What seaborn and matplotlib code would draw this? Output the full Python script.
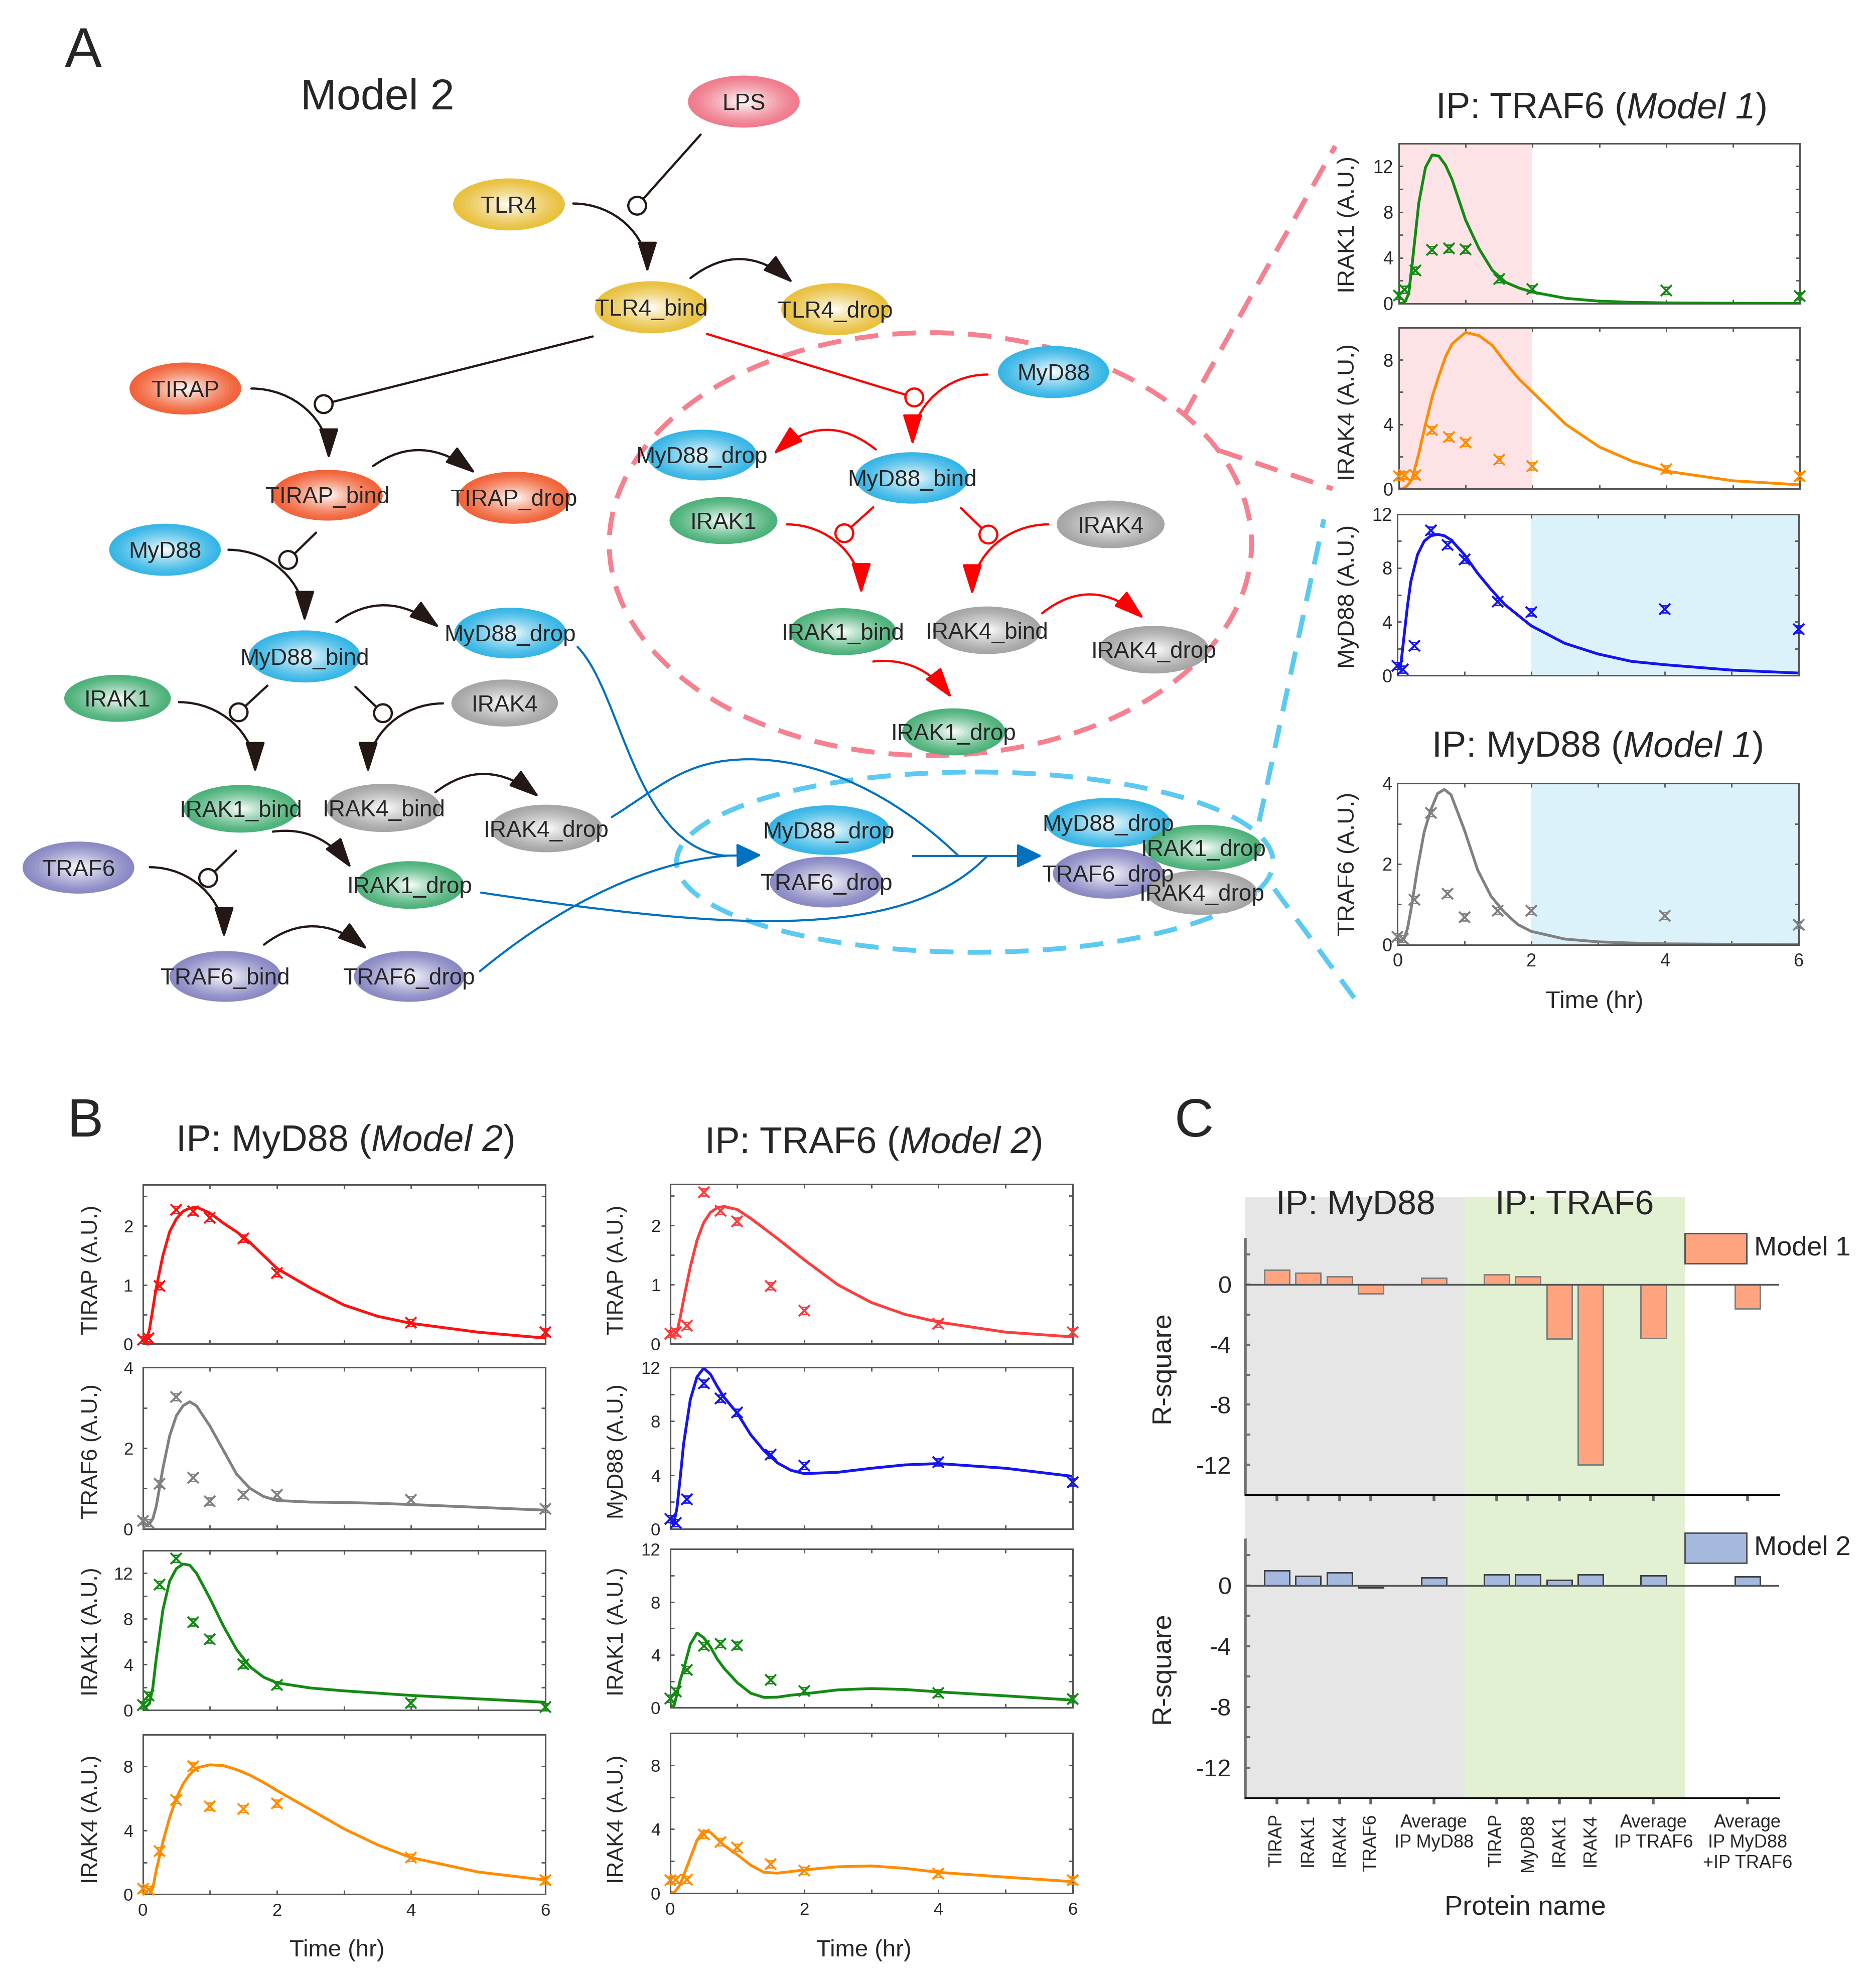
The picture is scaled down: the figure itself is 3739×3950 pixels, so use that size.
import numpy as np
import matplotlib
matplotlib.use("Agg")
import matplotlib.pyplot as plt
import seaborn as sns
from matplotlib import font_manager
from matplotlib.colors import to_rgb
from matplotlib.patches import Ellipse, Circle, Rectangle, FancyArrowPatch
from matplotlib.path import Path

# ---------------- data ----------------
# measured time points (hr) and the times the model curves were read at
t_obs = [0, 0.083, 0.25, 0.5, 0.75, 1, 1.5, 2, 4, 6]
t_fit = [0, 0.05, 0.1, 0.15, 0.2, 0.3, 0.4, 0.5, 0.6, 0.7, 0.8, 1.0,
         1.2, 1.4, 1.6, 1.8, 2.0, 2.5, 3.0, 3.5, 4.0, 5.0, 6.0]

# experiment, IP: MyD88
myd_tirap = [0.07, 0.1, 0.98, 2.27, 2.25, 2.14, 1.79, 1.2, 0.36, 0.2]
myd_traf6 = [0.2, 0.15, 1.12, 3.27, 1.26, 0.68, 0.84, 0.84, 0.72, 0.49]
myd_irak1 = [0.45, 1.3, 11.0, 13.3, 7.7, 6.2, 4.0, 2.2, 0.65, 0.3]
myd_irak4 = [0.36, 0.3, 2.7, 5.9, 8.0, 5.5, 5.36, 5.7, 2.3, 0.9]
# experiment, IP: TRAF6
trf_tirap = [0.17, 0.2, 0.31, 2.56, 2.25, 2.07, 0.98, 0.56, 0.34, 0.2]
trf_myd88 = [0.73, 0.44, 2.2, 10.8, 9.7, 8.65, 5.5, 4.7, 4.95, 3.45]
trf_irak1 = [0.7, 1.22, 2.87, 4.7, 4.82, 4.72, 2.12, 1.25, 1.12, 0.65]
trf_irak4 = [0.8, 0.84, 0.84, 3.65, 3.2, 2.86, 1.8, 1.42, 1.22, 0.8]

# model 1 fits
m1_trf_irak1 = [0, 0, 0.2, 0.9, 3.4, 8.8, 11.9, 13.0, 12.9, 12.1, 10.8, 7.3,
                4.8, 2.9, 1.85, 1.35, 1.0, 0.45, 0.2, 0.1, 0.05, 0.02, 0.0]
m1_trf_irak4 = [0, 0, 0.1, 0.3, 0.6, 2.2, 4.0, 5.7, 7.0, 8.2, 9.0, 9.7,
                9.5, 8.9, 7.8, 6.8, 6.0, 4.0, 2.6, 1.7, 1.1, 0.5, 0.25]
m1_trf_myd88 = [0.5, 0.8, 3.0, 5.2, 7.0, 9.0, 10.0, 10.4, 10.5, 10.4, 10.1, 9.0,
                7.6, 6.4, 5.3, 4.5, 3.7, 2.4, 1.6, 1.05, 0.8, 0.4, 0.18]
m1_myd_traf6 = [0.1, 0.1, 0.15, 0.4, 0.85, 1.9, 2.8, 3.35, 3.75, 3.85, 3.72, 2.85,
                1.85, 1.2, 0.8, 0.5, 0.33, 0.14, 0.07, 0.04, 0.02, 0.01, 0.0]

# model 2 fits, IP: MyD88
m2_myd_tirap = [0.05, 0.05, 0.25, 0.6, 0.95, 1.5, 1.9, 2.12, 2.25, 2.3, 2.32, 2.22,
                2.05, 1.9, 1.72, 1.5, 1.28, 0.95, 0.66, 0.47, 0.35, 0.2, 0.1]
m2_myd_traf6 = [0.15, 0.1, 0.12, 0.25, 0.55, 1.5, 2.3, 2.8, 3.05, 3.15, 3.05, 2.55,
                1.95, 1.35, 1.0, 0.8, 0.7, 0.66, 0.65, 0.63, 0.6, 0.53, 0.46]
m2_myd_irak1 = [0.4, 0.3, 0.6, 2.0, 4.5, 8.8, 11.3, 12.4, 12.8, 12.7, 12.0, 9.8,
                7.4, 5.3, 3.8, 2.9, 2.4, 1.95, 1.7, 1.5, 1.3, 1.0, 0.7]
m2_myd_irak4 = [0.1, 0.0, 0.0, 0.4, 1.5, 3.3, 4.8, 6.0, 6.9, 7.5, 7.9, 8.1,
                8.05, 7.8, 7.45, 7.0, 6.5, 5.3, 4.1, 3.1, 2.3, 1.4, 0.9]
# model 2 fits, IP: TRAF6
m2_trf_tirap = [0.15, 0.15, 0.2, 0.45, 0.75, 1.3, 1.75, 2.05, 2.22, 2.3, 2.32, 2.27,
                2.12, 1.95, 1.78, 1.6, 1.42, 1.0, 0.7, 0.5, 0.37, 0.2, 0.12]
m2_trf_myd88 = [0.6, 0.3, 1.5, 3.8, 6.3, 9.6, 11.3, 11.95, 11.5, 10.6, 9.8, 8.6,
                7.0, 5.8, 4.9, 4.35, 4.1, 4.2, 4.5, 4.75, 4.85, 4.5, 3.9]
m2_trf_irak1 = [0.3, 0.0, 1.0, 2.1, 2.9, 4.8, 5.65, 5.3, 4.6, 3.7, 3.0, 1.9,
                1.1, 0.78, 0.8, 0.95, 1.05, 1.35, 1.45, 1.38, 1.2, 0.9, 0.58]
m2_trf_irak4 = [0.1, 0.0, 0.25, 0.55, 1.1, 2.2, 3.3, 3.9, 3.8, 3.4, 3.0, 2.4,
                1.75, 1.3, 1.25, 1.35, 1.45, 1.65, 1.7, 1.55, 1.3, 1.0, 0.72]

# panel C: goodness of fit
protein_labels = ["TIRAP", "IRAK1", "IRAK4", "TRAF6", "Average\nIP MyD88",
                  "TIRAP", "MyD88", "IRAK1", "IRAK4", "Average\nIP TRAF6",
                  "Average\nIP MyD88\n+IP TRAF6"]
r2_model1 = [0.95, 0.76, 0.53, -0.61, 0.42, 0.65, 0.53, -3.62, -12.0, -3.58, -1.6]
r2_model2 = [0.99, 0.61, 0.84, -0.15, 0.53, 0.72, 0.72, 0.34, 0.72, 0.65, 0.57]
bar_slots = [1, 2, 3, 4, 6, 8, 9, 10, 11, 13, 16]

# ---------------- style ----------------
sns.set_theme(style="ticks")
plt.rcParams.update({
    "font.family": ["Liberation Sans", "DejaVu Sans"],
    "axes.unicode_minus": False,
})
installed = {f.name for f in font_manager.fontManager.ttflist}
if "Liberation Sans Narrow" in installed:
    node_font, node_fs = "Liberation Sans Narrow", 40
else:
    node_font, node_fs = "Liberation Sans", 33

W, H = 1478.0, 1561.0
PX = 3739 / W          # output pixels per layout unit
fig = plt.figure(figsize=(37.39, 39.50), dpi=100)
renderer = fig.canvas.get_renderer()


def R(x0, y0, x1, y1):
    return [x0 / W, 1 - y1 / H, (x1 - x0) / W, (y1 - y0) / H]


bg = fig.add_axes([0, 0, 1, 1], zorder=0)
bg.set_xlim(0, W)
bg.set_ylim(H, 0)
bg.axis("off")


def label(x, y, s, fs, **kw):
    return bg.text(x, y, s, fontsize=fs, **kw)


def title(x, y, pre, it, post, fs):
    # upright / italic / upright pieces, centred on x as a whole
    t1 = bg.text(x, y, pre, fontsize=fs, ha="left", va="baseline")
    t2 = bg.annotate(it, xy=(1, 0), xycoords=t1, fontsize=fs, style="italic",
                     ha="left", va="bottom")
    t3 = bg.annotate(post, xy=(1, 0), xycoords=t2, fontsize=fs, ha="left", va="bottom")
    total = sum(t.get_window_extent(renderer).width for t in (t1, t2, t3)) / PX
    t1.set_x(x - total / 2)


# ---------------- panel A: network ----------------
node_colors = {"lps": "#ef7b8c", "tlr": "#e9c13f", "tirap": "#f2643a",
               "myd": "#37b6e6", "irak1": "#4cb27a", "irak4": "#a6a6a6",
               "traf6": "#8a89c4"}

nodes = [
    ("LPS", 586, 80, 88, 41, "lps"),
    ("TLR4", 401, 161, 88, 41, "tlr"),
    ("TLR4_bind", 513, 242, 89, 41, "tlr"),
    ("TLR4_drop", 658, 243.5, 85, 41, "tlr"),
    ("TIRAP", 146, 306, 88, 41, "tirap"),
    ("TIRAP_bind", 258, 390, 87, 40, "tirap"),
    ("TIRAP_drop", 405, 392, 88, 41, "tirap"),
    ("MyD88", 130, 433, 88, 41, "myd"),
    ("MyD88_bind", 240, 517, 88, 41, "myd"),
    ("MyD88_drop", 402, 498.6, 88, 40, "myd"),
    ("IRAK1", 92.6, 550, 84, 37, "irak1"),
    ("IRAK4", 397.6, 553.7, 84, 37, "irak4"),
    ("IRAK1_bind", 189.7, 637, 90, 37.5, "irak1"),
    ("IRAK4_bind", 302.3, 636.3, 90, 38, "irak4"),
    ("IRAK4_drop", 430.5, 652.5, 88, 37.5, "irak4"),
    ("IRAK1_drop", 323, 697, 85, 37.5, "irak1"),
    ("TRAF6", 61.8, 683.3, 88, 41, "traf6"),
    ("TRAF6_bind", 177.5, 769, 88, 40, "traf6"),
    ("TRAF6_drop", 322.4, 769, 87, 40, "traf6"),
    ("MyD88", 830, 293, 87.5, 41, "myd"),
    ("MyD88_drop", 553, 358.4, 86.5, 40, "myd"),
    ("MyD88_bind", 718.5, 376.4, 89, 40.5, "myd"),
    ("IRAK1", 570, 410, 85, 37, "irak1"),
    ("IRAK4", 875, 413, 85, 37.5, "irak4"),
    ("IRAK1_bind", 664, 497.5, 84, 37, "irak1"),
    ("IRAK4_bind", 777.7, 496.4, 85, 37.5, "irak4"),
    ("IRAK4_drop", 909, 511.7, 87, 37.5, "irak4"),
    ("IRAK1_drop", 751.3, 576.4, 81, 37, "irak1"),
    ("MyD88_drop", 653, 653.8, 96, 39, "myd"),
    ("TRAF6_drop", 651, 694.7, 89, 40, "traf6"),
    ("MyD88_drop", 873, 648, 98, 39, "myd"),
    ("TRAF6_drop", 873, 688, 87, 39.5, "traf6"),
    ("IRAK1_drop", 948, 667.6, 92, 36, "irak1"),
    ("IRAK4_drop", 947, 703, 87, 35, "irak4"),
]

for k, (name, x, y, w, h, key) in enumerate(nodes):
    base = np.array(to_rgb(node_colors[key]))
    n = 14
    for i in range(n):
        f = 1 - i / n
        m = 0.93 * (i / (n - 1)) ** 1.3
        bg.add_patch(Ellipse((x, y), w * f, h * f, fc=base * (1 - m) + m,
                             ec="none", zorder=3 + k * 0.05 + i * 0.001))
em = node_fs / 1.8216
for name, x, y, w, h, key in nodes:
    bg.text(x, y + 0.36 * em, name, fontsize=node_fs, family=[node_font, "DejaVu Sans"],
            ha="center", va="baseline", zorder=20)


def quarter(S, E):
    (sx, sy), (ex, ey) = S, E
    return [S, (sx + 0.55 * (ex - sx), sy), (ex, ey - 0.55 * (ey - sy)), E]


def link(pts, color, lw=3.2, head=True, hl=38, hw=12, z=6):
    codes = {2: [Path.MOVETO, Path.LINETO],
             3: [Path.MOVETO, Path.CURVE3, Path.CURVE3],
             4: [Path.MOVETO] + [Path.CURVE4] * 3,
             7: [Path.MOVETO] + [Path.CURVE4] * 6}[len(pts)]
    style = f"-|>,head_length={hl},head_width={hw}" if head else "-"
    bg.add_patch(FancyArrowPatch(path=Path(pts, codes), arrowstyle=style, color=color,
                                 lw=lw, mutation_scale=1, zorder=z))


BLK, RED, BLU = "#231815", "#ff0000", "#0070c0"

# catalysis lines ending in open circles
for (a, b), col in [(((552, 106), (502, 162)), BLK),
                    (((467, 265), (255, 318.3)), BLK),
                    (((249, 419.5), (227, 441)), BLK),
                    (((210.7, 540), (188, 561)), BLK),
                    (((280, 541), (301.7, 561.7)), BLK),
                    (((186, 670), (164, 691.5)), BLK),
                    (((557, 263), (720.3, 313)), RED),
                    (((688, 399.5), (665.2, 420)), RED),
                    (((757, 400), (778.7, 421)), RED)]:
    link([a, b], col, head=False)
    bg.add_patch(Circle(b, 7, fc="white", ec=col, lw=3.2, zorder=8))

# reactions
for pts in [quarter((451.6, 160.3), (510, 215)),
            [(544, 219), (584, 188), (625, 223)],
            quarter((198, 306), (259, 362)),
            [(294, 367), (332, 340), (375, 373)],
            quarter((180, 433), (240, 490)),
            [(265, 490), (304, 462), (346.5, 494.6)],
            quarter((141, 553), (201, 609)),
            quarter((349, 554), (290, 609)),
            [(343, 624), (382, 594), (425, 628)],
            [(215, 655), (252, 650), (277, 684)],
            quarter((118, 683), (176.5, 739)),
            [(208, 744), (247, 714), (290, 748)]]:
    link(pts, BLK)
for pts in [quarter((778, 295), (719, 351)),
            [(690, 354), (650, 322), (609, 358)],
            quarter((620, 413), (678.5, 468)),
            quarter((826, 413), (766, 469)),
            [(821, 483), (860, 452), (901.5, 487.4)],
            [(688, 521), (725, 517), (750, 550)]]:
    link(pts, RED)

# complex formation (blue)
link([(455, 509.5), (490, 545), (500, 668), (572, 674)], BLU, lw=3, head=False)
link([(378, 765), (430, 722), (500, 680), (572, 674)], BLU, lw=3, head=False)
link([(482, 643.5), (520, 620), (540, 598), (590, 598), (660, 598), (720, 640), (755, 674)],
     BLU, lw=3, head=False)
link([(379, 703), (560, 730), (710, 745), (778, 674)], BLU, lw=3, head=False)
link([(566, 674), (600, 673.5)], BLU, lw=3, hl=31, hw=15)
link([(719, 674), (821, 674)], BLU, lw=3, hl=31, hw=15)

# dashed highlights
PINK, CYAN = "#f7808f", "#5ccaf0"
bg.add_patch(Ellipse((733, 428.5), 506, 333, fill=False, ec=PINK, lw=7,
                     ls=(0, (4.8, 2.9)), zorder=2))
bg.add_patch(Ellipse((768, 679), 470, 142, fill=False, ec=CYAN, lw=7,
                     ls=(0, (4.8, 2.9)), zorder=2))
for (a, b), col in [(((933, 327), (1052, 115)), PINK), (((961, 355), (1050, 385)), PINK),
                    (((992, 647), (1043, 409)), CYAN), (((1004, 700), (1067, 786)), CYAN)]:
    bg.plot([a[0], b[0]], [a[1], b[1]], color=col, lw=7, ls=(0, (4.8, 2.9)),
            solid_capstyle="butt", zorder=2)

label(50.8, 52.7, "A", 80, ha="left", va="baseline")
label(236.6, 86, "Model 2", 62, ha="left", va="baseline")

# ---------------- time-course helpers ----------------
hourglass = Path([(-1, -1), (1, 1), (-1, 1), (1, -1), (-1, -1)])


def course(rect, y_fit, y_obs, color, ylim, major, minor, xlabels, tick_fs, pad,
           shade=None, shade_c=None):
    ax = fig.add_axes(R(*rect), zorder=2)
    ax.set_facecolor("none")
    if shade is not None:
        ax.axvspan(*shade, fc=shade_c, lw=0, zorder=0)
    sns.lineplot(x=t_fit, y=y_fit, color=color, lw=4, ax=ax, zorder=2)
    ax.plot(t_obs, y_obs, ls="none", marker="x", ms=16, mew=2.8, color=color,
            clip_on=False, zorder=4)
    ax.plot(t_obs, y_obs, ls="none", marker=hourglass, ms=10, mew=2.0, mfc="none",
            mec=color, clip_on=False, zorder=4)
    ax.set_xlim(0, 6)
    ax.set_ylim(*ylim)
    ax.set_xticks([0, 2, 4, 6])
    ax.set_xticks([1, 3, 5], minor=True)
    ax.set_yticks(major)
    ax.set_yticks(minor, minor=True)
    ax.tick_params(which="both", direction="in", top=True, right=True, length=6,
                   width=2, color="#555555", labelsize=tick_fs, pad=pad)
    ax.tick_params(axis="x", pad=12)
    if not xlabels:
        ax.set_xticklabels([])
    ax.set_xlabel("")
    ax.set_ylabel("")
    for s in ax.spines.values():
        s.set_color("#555555")
        s.set_linewidth(2.2)
    return ax


PK, LB = "#fde3e6", "#dcf2fb"
GRN, ORG, BLUE, GRY = "#138a13", "#ff8c00", "#1414f0", "#808080"

# panel A, model 1 fits
course((1102, 113, 1418, 239), m1_trf_irak1, trf_irak1, GRN, (0, 14), [0, 4, 8, 12],
       [2, 6, 10, 14], False, 26, 8, (0, 2), PK)
course((1102, 258, 1418, 385), m1_trf_irak4, trf_irak4, ORG, (0, 10), [0, 4, 8],
       [2, 6, 10], False, 26, 8, (0, 2), PK)
course((1101, 405, 1417, 532), m1_trf_myd88, trf_myd88, BLUE, (0, 12), [0, 4, 8, 12],
       [2, 6, 10], False, 26, 8, (2, 6), LB)
course((1101, 617, 1417, 744), m1_myd_traf6, myd_traf6, GRY, (0, 4), [0, 2, 4],
       [1, 3], True, 26, 8, (2, 6), LB)

title(1262, 93, "IP: TRAF6 (", "Model 1", ")", 52)
title(1259, 596, "IP: MyD88 (", "Model 1", ")", 52)
for y, s in [(176.8, "IRAK1 (A.U.)"), (324.8, "IRAK4 (A.U.)"),
             (469.8, "MyD88 (A.U.)"), (680.5, "TRAF6 (A.U.)")]:
    label(1062, y, s, 34, rotation=90, ha="center", va="center")
label(1256, 794, "Time (hr)", 35, ha="center", va="baseline")

# ---------------- panel B ----------------
label(52.8, 895, "B", 78, ha="left", va="baseline")
RED2 = "#ff1010"
course((112.5, 933, 429.5, 1058.5), m2_myd_tirap, myd_tirap, RED2, (0, 2.7), [0, 1, 2],
       [0.5, 1.5, 2.5], False, 25, 14)
course((112.5, 1077, 429.5, 1204), m2_myd_traf6, myd_traf6, GRY, (0, 4), [0, 2, 4],
       [1, 3], False, 25, 14)
course((112.5, 1221, 429.5, 1347), m2_myd_irak1, myd_irak1, GRN, (0, 14), [0, 4, 8, 12],
       [2, 6, 10, 14], False, 25, 14)
course((112.5, 1366, 429.5, 1492), m2_myd_irak4, myd_irak4, ORG, (0, 10), [0, 4, 8],
       [2, 6, 10], True, 25, 14)
course((528, 932.5, 845, 1058.5), m2_trf_tirap, trf_tirap, "#ff3b3b", (0, 2.7), [0, 1, 2],
       [0.5, 1.5, 2.5], False, 25, 14)
course((528, 1077, 845, 1204), m2_trf_myd88, trf_myd88, BLUE, (0, 12), [0, 4, 8, 12],
       [2, 6, 10], False, 25, 14)
course((528, 1220, 845, 1345), m2_trf_irak1, trf_irak1, GRN, (0, 12), [0, 4, 8, 12],
       [2, 6, 10], False, 25, 14)
course((528, 1365, 845, 1491), m2_trf_irak4, trf_irak4, ORG, (0, 10), [0, 4, 8],
       [2, 6, 10], True, 25, 14)

title(272.4, 906.5, "IP: MyD88 (", "Model 2", ")", 53)
title(688.8, 908, "IP: TRAF6 (", "Model 2", ")", 53)
for x, names in [(72, ["TIRAP", "TRAF6", "IRAK1", "IRAK4"]),
                 (486.5, ["TIRAP", "MyD88", "IRAK1", "IRAK4"])]:
    for y, s in zip([1000, 1143, 1285, 1433], names):
        label(x, y, f"{s} (A.U.)", 32, rotation=90, ha="center", va="center")
label(265.5, 1541, "Time (hr)", 34, ha="center", va="baseline")
label(680.5, 1541, "Time (hr)", 34, ha="center", va="baseline")

# ---------------- panel C ----------------
label(925, 895, "C", 78, ha="left", va="baseline")
bg.add_patch(Rectangle((981.2, 942.8), 173.1, 473.2, fc="#e6e6e6", ec="none", zorder=0.5))
bg.add_patch(Rectangle((1154.3, 942.8), 173.0, 473.2, fc="#e3f1d3", ec="none", zorder=0.5))
label(1068, 956.4, "IP: MyD88", 49, ha="center", va="baseline")
label(1240.6, 956.4, "IP: TRAF6", 49, ha="center", va="baseline")

M1C, M2C = "#ffa47e", "#a4b9dd"
for rect, vals, fc, ec, lab_y, leg_y, name, last in [
        ((981.2, 976, 1401.6, 1177.4), r2_model1, M1C, "#808080", 1076.7, 971.4, "Model 1", False),
        ((981.2, 1212.8, 1401.6, 1416), r2_model2, M2C, "#404040", 1313.5, 1207.3, "Model 2", True)]:
    ax = fig.add_axes(R(*rect), zorder=2)
    ax.set_facecolor("none")
    sns.barplot(x=bar_slots, y=vals, native_scale=True, color=fc, edgecolor=ec,
                linewidth=2.2, saturation=1, errorbar=None, width=0.8, ax=ax, zorder=3)
    ax.axhline(0, color="#555555", lw=2.5, zorder=4)
    ax.set_xlim(0, 17)
    ax.set_ylim(-14, 3)
    ax.set_yticks([-12, -8, -4, 0])
    ax.set_yticklabels(["-12", "-8", "-4", "0"])
    ax.set_yticks([-10, -6, -2, 2], minor=True)
    ax.tick_params(axis="y", which="both", direction="in", length=7, width=3,
                   color="#707070", labelsize=35, pad=20)
    ax.set_xticks(bar_slots)
    ax.tick_params(axis="x", direction="out", length=9, width=4, color="#666666",
                   labelsize=26, pad=14)
    ax.set_xticks([], minor=True)
    if last:
        ax.set_xticklabels(protein_labels)
        for t in ax.get_xticklabels():
            t.set_rotation(0 if "\n" in t.get_text() else 90)
            t.set_ha("center")
            t.set_va("top")
            t.set_multialignment("center")
    else:
        ax.set_xticklabels([])
    ax.set_xlabel("")
    ax.set_ylabel("")
    ax.spines[["top", "right"]].set_visible(False)
    ax.spines["left"].set_color("#707070")
    ax.spines["left"].set_linewidth(4)
    ax.spines["bottom"].set_color("black")
    ax.spines["bottom"].set_linewidth(2.2)
    label(915.6, lab_y, "R-square", 39, rotation=90, ha="center", va="center")
    bg.add_patch(Rectangle((1327.3, leg_y), 48.7, 23.6, fc=fc, ec="#555555", lw=2.2, zorder=1))
    label(1382, leg_y + 11.8, name, 39, ha="left", va="center")

label(1201.5, 1507.7, "Protein name", 39, ha="center", va="baseline")

fig.savefig("out.png", dpi=100)
